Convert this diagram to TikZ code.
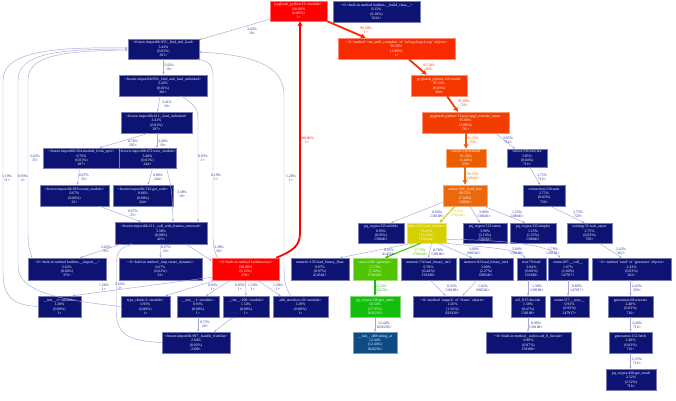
\documentclass[tikz,border=0pt]{standalone}
\usepackage{fontspec}
\setmainfont{Liberation Serif}
\usetikzlibrary{arrows.meta}
\definecolor{nv}{HTML}{0D1373}
\definecolor{cred}{HTML}{FF0000}
\definecolor{crun}{HTML}{FA2A00}
\definecolor{cpy}{HTML}{F53600}
\definecolor{cens}{HTML}{F33C00}
\definecolor{cfa}{HTML}{EE5C00}
\definecolor{clr}{HTML}{EC680C}
\definecolor{cyel}{HTML}{D6D000}
\definecolor{cgen}{HTML}{50C400}
\definecolor{cgv}{HTML}{14BE0C}
\definecolor{cstr}{HTML}{0D4B87}
\definecolor{eblue}{HTML}{A4A8D8}
\definecolor{lblue}{HTML}{2A2E96}
\newcommand\nfont{\fontsize{3.8}{4.4}\selectfont}
\tikzset{
 gbox/.style={rectangle, inner sep=0pt, align=center, text=white, font=\nfont, line width=0.5pt},
 e/.style={draw=eblue, line width=0.45pt, -{Stealth[length=2.6pt,width=2.2pt]}},
 hot/.style={draw=#1, line width=1.8pt, -{Stealth[length=5pt,width=5pt]}},
 warm/.style={draw=#1, line width=1.1pt, -{Stealth[length=3.6pt,width=3.4pt]}},
 el/.style={font=\nfont, align=center, text=lblue, inner sep=0pt},
}
\newcommand\gnode[7]{\node[gbox, fill=#6, draw=#6!55!white, minimum width={(#4)-(#2)}, minimum height={(#5)-(#3)}] (#1) at ({((#2)+(#4))/2},{((#3)+(#5))/2}) {#7};}
\begin{document}
\begin{tikzpicture}[x=1pt,y=-1pt]
\useasboundingbox (0,0) rectangle (676,400);
\fill[white] (0,0) rectangle (676,400);
% nodes
\gnode{main}{270}{1}{327}{21}{cred}{pyglossh\_python:13:<module>\\100.00\%\\(0.00\%)\\1×}
\gnode{build}{333}{1}{420}{22}{nv}{\textasciitilde:0:<built-in method builtins.\_\_build\_class\_\_>\\0.12\%\\(0.10\%)\\3012×}
\gnode{ffl}{128}{39}{199}{59}{nv}{<frozen importlib:955:\_find\_and\_load>\\3.43\%\\(0.02\%)\\301×}
\gnode{run}{338}{38}{455}{59}{crun}{\textasciitilde:0:<method 'run\_until\_complete' of 'uvloop.loop.Loop' objects>\\96.50\%\\(1.90\%)\\1×}
\gnode{py130}{411}{75}{467}{96}{cpy}{pyglossh\_python:130:render\\95.34\%\\(0.03\%)\\360×}
\gnode{fflu}{119}{75}{207}{96}{nv}{<frozen importlib:936:\_find\_and\_load\_unlocked>\\3.42\%\\(0.01\%)\\301×}
\gnode{loadu}{121}{112}{192}{133}{nv}{<frozen importlib:611:\_load\_unlocked>\\3.41\%\\(0.01\%)\\297×}
\gnode{ensure}{422}{112}{509}{133}{cens}{pyglossh\_python:74:psycopg3\_execute\_async\\95.08\%\\(3.08\%)\\726×}
\gnode{mfs}{43}{148}{120}{168}{nv}{<frozen importlib:564:module\_from\_spec>\\0.76\%\\(0.01\%)\\287×}
\gnode{execmod}{123}{148}{172}{168}{nv}{<frozen importlib:672:exec\_module>\\3.40\%\\(0.01\%)\\244×}
\gnode{fetchall}{446}{149}{486}{167}{cfa}{cursor:336:fetchall\\91.32\%\\(1.40\%)\\358×}
\gnode{execute}{507}{149}{547}{167}{nv}{cursor:336:execute\\3.85\%\\(0.04\%)\\716×}
\gnode{createmod}{40}{185}{109}{206}{nv}{<frozen importlib:919:create\_module>\\0.67\%\\(0.00\%)\\23×}
\gnode{getcode}{113}{185}{173}{206}{nv}{<frozen importlib:743:get\_code>\\0.86\%\\(0.00\%)\\244×}
\gnode{loadrow}{443}{185}{487}{206}{clr}{cursor:216:\_load\_row\\89.55\%\\(7.04\%)\\138046×}
\gnode{wait}{523}{185}{565}{206}{nv}{connection:236:wait\\2.75\%\\(0.03\%)\\720×}
\gnode{frames}{115}{222}{207}{244}{nv}{<frozen importlib:211:\_call\_with\_frames\_removed>\\3.38\%\\(0.00\%)\\423×}
\gnode{fields}{358}{223}{404}{243}{nv}{pq\_ctypes:325:nfields\\0.95\%\\(0.95\%)\\138046×}
\gnode{seq}{407}{223}{446}{243}{cyel}{adapt:250:load\_sequence\\76.23\%\\(10.52\%)\\1796444×}
\gnode{status}{463}{223}{507}{243}{nv}{pq\_ctypes:513:status\\3.90\%\\(2.10\%)\\230262×}
\gnode{ntuples}{510}{223}{556}{243}{nv}{pq\_ctypes:325:ntuples\\1.25\%\\(1.25\%)\\138046×}
\gnode{waitasync}{567}{223}{612}{243}{nv}{waiting:53:wait\_async\\2.75\%\\(0.03\%)\\720×}
\gnode{import}{28}{258}{106}{280}{nv}{\textasciitilde:0:<built-in method builtins.\_\_import\_\_>\\2.62\%\\(0.00\%)\\376×}
\gnode{createdyn}{119}{258}{202}{280}{nv}{\textasciitilde:0:<built-in method \_imp.create\_dynamic>\\0.67\%\\(0.62\%)\\23×}
\gnode{exec}{212}{258}{279}{280}{cred}{\textasciitilde:0:<built-in method builtins.exec>\\100.00\%\\(0.12\%)\\278×}
\gnode{lbf}{291}{258}{349}{280}{nv}{numeric:132:load\_binary\_float\\0.97\%\\(0.97\%)\\414564×}
\gnode{gen}{353}{258}{397}{280}{cgen}{cursor:268:<genexpr>\\57.79\%\\(7.02\%)\\1796444×}
\gnode{lbi}{401}{258}{456}{280}{nv}{numeric:74:load\_binary\_int2\\0.78\%\\(0.44\%)\\138188×}
\gnode{lbj}{459}{258}{513}{280}{nv}{numeric:82:load\_binary\_int4\\3.00\%\\(2.27\%)\\690540×}
\gnode{textload}{517}{258}{546}{280}{nv}{text:79:load\\2.04\%\\(0.60\%)\\138188×}
\gnode{enumcall}{548}{258}{588}{280}{nv}{enum:287:\_\_call\_\_\\1.97\%\\(1.00\%)\\147917×}
\gnode{send}{592}{258}{671}{280}{nv}{\textasciitilde:0:<method 'send' of 'generator' objects>\\2.43\%\\(0.03\%)\\362×}
\gnode{initb}{38}{296}{81}{317}{nv}{\_\_init\_\_:2:<module>\\1.20\%\\(0.00\%)\\1×}
\gnode{typecheck}{121}{296}{170}{317}{nv}{type\_check:2:<module>\\0.93\%\\(0.00\%)\\1×}
\gnode{inita}{177}{296}{219}{317}{nv}{\_\_init\_\_:1:<module>\\0.93\%\\(0.00\%)\\1×}
\gnode{initc}{223}{296}{269}{317}{nv}{\_\_init\_\_:106:<module>\\1.54\%\\(0.00\%)\\1×}
\gnode{newdocs}{273}{296}{328}{317}{nv}{add\_newdocs:10:<module>\\1.20\%\\(0.00\%)\\1×}
\gnode{getvalue}{350}{296}{400}{317}{cgv}{pq\_ctypes:238:get\_value\\50.34\%\\(37.97\%)\\1026256×}
\gnode{unpack}{413}{296}{492}{317}{nv}{\textasciitilde:0:<method 'unpack' of 'Struct' objects>\\1.56\%\\(1.56\%)\\829120×}
\gnode{utfdec}{511}{296}{545}{317}{nv}{utf\_8:15:decode\\1.38\%\\(0.47\%)\\138188×}
\gnode{enumnew}{550}{296}{589}{317}{nv}{enum:517:\_\_new\_\_\\0.93\%\\(0.93\%)\\147917×}
\gnode{genexec}{608}{296}{653}{317}{nv}{generators:68:execute\\2.40\%\\(0.03\%)\\716×}
\gnode{handle}{162}{332}{230}{353}{nv}{<frozen importlib:997:\_handle\_fromlist>\\2.64\%\\(0.02\%)\\2208×}
\gnode{stringat}{353}{332}{397}{353}{cstr}{\_\_init\_\_:488:string\_at\\12.44\%\\(12.44\%)\\1026256×}
\gnode{codecs}{486}{332}{571}{353}{nv}{\textasciitilde:0:<built-in method \_codecs.utf\_8\_decode>\\0.90\%\\(0.87\%)\\138188×}
\gnode{fetch}{609}{332}{652}{353}{nv}{generators:152:fetch\\2.40\%\\(0.03\%)\\716×}
\gnode{getresult}{606}{369}{656}{390}{nv}{pq\_ctypes:420:get\_result\\2.32\%\\(2.32\%)\\716×}
% hot path
\draw[hot=cred] ([xshift=-3pt]exec.north east) .. controls (295,250) and (300,245) .. (300,232) -- ([xshift=1.5pt]main.south) node[el,text=cred] at (307,140) {100.00\%\\1×};
\draw[hot=crun] (main.south east) -- ([xshift=-31pt]run.north) node[el,text=crun] at (366,30) {96.50\%\\1×};
\draw[hot=cpy] (run) -- (py130) node[el,text=cpy] at (429,67) {95.34\%\\360×};
\draw[hot=cens] ([xshift=8pt]py130.south) -- ([xshift=-7.5pt]ensure.north) node[el,text=cens] at (464,103) {95.08\%\\726×};
\draw[hot=cfa] (fetchall.north |- ensure.south) -- (fetchall.north) node[el,text=cfa] at (473,140) {91.32\%\\358×};
\draw[hot=clr] (loadrow.north |- fetchall.south) -- (loadrow.north) node[el,text=clr] at (473,176) {89.55\%\\138046×};
\draw[warm=cyel] ([xshift=-10pt]loadrow.south) -- ([xshift=13pt]seq.north) node[el,text=cyel] at (458,213) {76.23\%\\1796444×};
\draw[warm=cgen] ([xshift=-6pt]seq.south) -- ([xshift=10pt]gen.north) node[el,text=cgen] at (420,252) {57.79\%\\1796444×};
\draw[warm=cgv] (gen.south) -- (getvalue.north) node[el,text=cgv] at (381,288) {50.34\%\\1026256×};
% cursor side
\draw[e] ([xshift=30pt]ensure.south) -- ([xshift=-12pt]execute.north) node[el] at (508,140) {3.85\%\\716×};
\draw[e] ([xshift=3pt]execute.south) -- ([xshift=-4pt]wait.north) node[el] at (542,177) {2.75\%\\716×};
\draw[e] ([xshift=6pt]wait.south) -- ([xshift=-5pt]waitasync.north) node[el] at (578,214) {2.75\%\\720×};
\draw[e] ([yshift=4pt]loadrow.south west) -- ([xshift=10pt]fields.north) node[el] at (437,214) {0.94\%\\138188×};
\draw[e] ([xshift=5pt]loadrow.south) -- ([xshift=-5pt]status.north) node[el] at (484,214) {3.90\%\\138046×};
\draw[e] ([xshift=19pt]loadrow.south) -- ([xshift=-8pt]ntuples.north) node[el] at (517,214) {1.25\%\\138046×};
\draw[e] ([xshift=-14pt]seq.south) -- ([xshift=20pt]lbf.north) node[el] at (389,252) {0.97\%\\414564×};
\draw[e] ([xshift=5pt]seq.south) -- (lbi.north) node[el] at (438,252) {0.78\%\\138188×};
\draw[e] ([xshift=12pt]seq.south) -- ([xshift=-14pt]lbj.north) node[el] at (474,251) {3.00\%\\690540×};
\draw[e] (seq.south east) .. controls (480,247) and (515,248) .. ([xshift=-6pt]textload.north) node[el] at (517,251) {2.04\%\\138188×};
\draw[e] ([yshift=4pt]seq.south east) .. controls (500,240) and (550,244) .. ([xshift=-8pt]enumcall.north) node[el] at (553,251) {1.79\%\\138182×};
\draw[e] ([xshift=10pt]waitasync.south) -- ([xshift=-10pt]send.north) node[el] at (621,251) {2.43\%\\362×};
\draw[e] ([xshift=2pt]lbi.south) -- ([xshift=-7pt]unpack.north) node[el] at (452,288) {0.32\%\\138188×};
\draw[e] ([xshift=-9pt]lbj.south) -- ([xshift=10pt]unpack.north) node[el] at (483,288) {1.62\%\\690540×};
\draw[e] (utfdec.north |- textload.south) -- (utfdec.north) node[el] at (537,288) {1.38\%\\138188×};
\draw[e] (enumcall.south) -- (enumcall.south |- enumnew.north) node[el] at (577,288) {0.80\%\\147917×};
\draw[e] (genexec.north |- send.south) -- (genexec.north) node[el] at (637,288) {2.43\%\\358×};
\draw[e] (getvalue.south) -- (stringat.north) node[el] at (384,325) {12.44\%\\1026256×};
\draw[e] (utfdec.south) -- (utfdec.south |- codecs.north) node[el] at (536,325) {0.90\%\\138188×};
\draw[e] (genexec.south) -- (genexec.south |- fetch.north) node[el] at (637,325) {2.40\%\\716×};
\draw[e] (fetch.south) -- (fetch.south |- getresult.north) node[el] at (637,361) {2.33\%\\716×};
% import side
\draw[e] ([yshift=2pt]main.south west) -- ([yshift=-1pt]ffl.north east) node[el] at (252,31) {3.43\%\\10×};
\draw[e] (ffl.south) -- (ffl.south |- fflu.north) node[el] at (169,67) {3.42\%\\10×};
\draw[e] ([xshift=-3pt]fflu.south) -- ([xshift=1pt]loadu.north) node[el] at (167,104) {3.41\%\\10×};
\draw[e] ([xshift=-8pt]loadu.south) -- ([xshift=18pt]mfs.north) node[el] at (133,143) {0.76\%\\292×};
\draw[e] ([xshift=0.5pt]loadu.south) -- ([xshift=9.5pt]execmod.north) node[el] at (163,143) {3.40\%\\10×};
\draw[e] ([xshift=-2pt]mfs.south) -- ([xshift=3pt]createmod.north) node[el] at (84,177) {0.67\%\\23×};
\draw[e] ([xshift=5pt]execmod.south) -- ([xshift=5pt]getcode.north) node[el] at (158,177) {0.86\%\\244×};
\draw[e] ([xshift=19pt]execmod.south) .. controls (172,190) .. ([xshift=12pt]frames.north) node[el] at (182,194) {3.38\%\\10×};
\draw[e] ([xshift=25pt]createmod.south) -- ([xshift=-20pt]frames.north) node[el] at (133,213) {0.67\%\\23×};
\draw[e] ([xshift=19pt]fflu.south) .. controls (198,108) .. (198,125) -- ([xshift=37pt]frames.north) node[el] at (203,158) {0.93\%\\1×};
\draw[e] ([xshift=-40pt]frames.south) -- ([xshift=13pt]import.north) node[el] at (106,249) {2.62\%\\35×};
\draw[e] (frames.south) -- (createdyn.north) node[el] at (166,249) {0.67\%\\23×};
\draw[e] ([xshift=25pt]frames.south) -- ([yshift=-3pt]exec.north west) node[el] at (219,249) {3.38\%\\10×};
\draw[e] ([xshift=-28pt]exec.north) .. controls (214,250) .. (213,238) -- (213,75) .. controls (213,64) and (206,60) .. ([xshift=-2pt]ffl.south east) node[el] at (216,177) {0.19\%\\1×};
\draw[e] ([xshift=-35pt]import.north) .. controls (28,245) .. (28,225) -- (28,80) .. controls (28,56) and (60,51) .. ([yshift=-1pt]ffl.west) node[el] at (35,158) {2.62\%\\35×};
\draw[e] (initb.west) .. controls (12,305) and (3,296) .. (3,272) -- (3,80) .. controls (3,50) and (60,47) .. ([yshift=1pt]ffl.west) node[el] at (7,178) {1.19\%\\11×};
\draw[e] (typecheck.west) .. controls (60,300) and (18,292) .. (18,266) -- (18,80) .. controls (18,53) and (60,49) .. (ffl.west) node[el] at (23,178) {0.93\%\\2×};
\draw[e] ([xshift=-10pt]newdocs.north) .. controls (285,286) and (284,280) .. (284,266) -- (284,95) .. controls (284,64) and (250,55) .. ([yshift=-3pt]ffl.east) node[el] at (291,178) {1.20\%\\1×};
\draw[e] ([yshift=3pt]exec.south west) -- ([xshift=13pt]initb.north) node[el] at (104,287) {1.20\%\\1×};
\draw[e] ([xshift=4pt]exec.south west) -- ([xshift=20pt]typecheck.north) node[el] at (213,287) {0.93\%\\1×};
\draw[e] ([xshift=-15pt]exec.south) -- ([xshift=8pt]inita.north) node[el] at (240,287) {0.93\%\\1×};
\draw[e] (exec.south) -- (initc.north) node[el] at (253,287) {1.54\%\\1×};
\draw[e] ([xshift=12pt]exec.south) -- ([xshift=-20pt]newdocs.north) node[el] at (278,287) {1.20\%\\1×};
\draw[e] (inita.south) -- (inita.south |- handle.north) node[el] at (205,324) {0.73\%\\28×};
\draw[e] ([xshift=-13pt]initc.south) -- ([xshift=18pt]handle.north) node[el] at (234,315) {1.48\%\\2×};
\draw[e] (handle.west) .. controls (125,341) and (116.5,332) .. (116.5,312) -- (116.5,262) .. controls (116.5,250) and (124,246) .. ([xshift=-28pt]frames.south) node[el] at (120,286) {2.62\%\\3×};
\end{tikzpicture}
\end{document}
